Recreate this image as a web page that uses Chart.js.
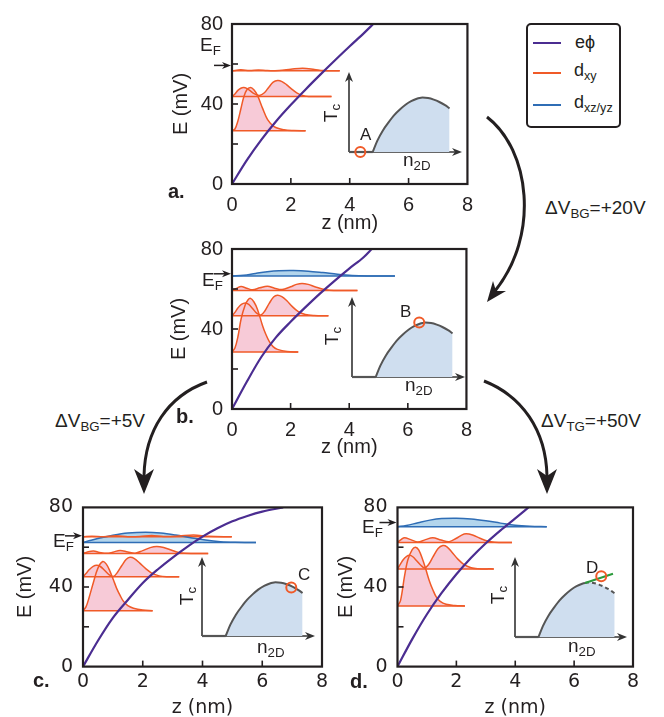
<!DOCTYPE html>
<html>
<head>
<meta charset="utf-8">
<script src="https://cdn.jsdelivr.net/npm/chart.js@4.4.1/dist/chart.umd.min.js"></script>
<style>
body { margin: 0; background: #fff; }
#fig { position: relative; width: 664px; height: 717px; overflow: hidden; font-family: "Liberation Sans", Arial, sans-serif; color: #231f20; }
#fig canvas { position: absolute; }
.t { position: absolute; line-height: 1; white-space: nowrap; font-size: 19px; }
.t sub { font-size: 70%; vertical-align: -0.3em; line-height: 0; }
.lab { font-weight: bold; font-size: 20px; }
.rot { transform: translate(-50%, -50%) rotate(-90deg); }
svg { position: absolute; left: 0; top: 0; }
</style>
</head>
<body>
<div id="fig">
<svg width="664" height="717">
  <g fill="none" stroke="#231f20" stroke-width="3">
    <path d="M487,117 C530,150 540,235 495,291"/>
    <path d="M207,382 C168,396 145,430 144,476"/>
    <path d="M484,381 C522,396 546,430 547,476"/>
  </g>
  <g fill="#231f20">
    <polygon points="487,302 493,281 496,291 506,291"/>
    <polygon points="144,494 134,469 144,476 154,469"/>
    <polygon points="547,494 537,469 547,476 557,469"/>
  </g>
</svg>
</div>
<script>
const PURPLE = '#4b2d91', ORANGE = '#f05a28', PINK = '#f7cad7', BLUE = '#2f6db5', LBLUE = '#b3d5ec', INK = '#231f20';

// axes
const zTicks = [0, 2, 4, 6, 8];
const eTicks = [0, 20, 40, 60, 80];
const eLabeled = [0, 40, 80];

// e-phi potential, [z (nm), E (mV)]
const phiA = [[0,0],[0.5,11.8],[1,22.2],[1.5,31.4],[2,39.6],[2.5,47.3],[3,54.7],[3.5,61.9],[4,68.9],[4.5,75.7],[4.8,80]];
const phiB = [[0,0],[0.5,13.5],[1,26],[1.5,35.8],[2,43.6],[2.5,50.8],[3,57.7],[3.5,64.1],[4,70.2],[4.5,76],[4.77,80]];
const phiC = [[0,0],[0.5,13],[1,24.5],[1.5,33.5],[2,42],[2.5,48.8],[3,54.8],[3.5,60.3],[4,65.3],[4.5,69.5],[5,73],[5.5,75.7],[6,77.9],[6.7,80]];
const phiD = [[0,0],[0.5,13.8],[1,26.3],[1.5,37],[2,46.4],[2.5,54.7],[3,62],[3.5,68.5],[4,74.5],[4.45,80]];

// d_xy subbands (first point = level), [z, E]
const aXY1 = [[0,26.6],[0.1,27.5],[0.2,31.5],[0.3,37.5],[0.4,43.5],[0.5,47],[0.63,48.2],[0.75,47],[0.87,44.2],[1.04,37.8],[1.21,32.2],[1.43,28.7],[1.77,27.1],[2.1,26.7],[2.5,26.6]];
const aXY2 = [[0,43.7],[0.1,45],[0.2,46.8],[0.3,47.9],[0.4,48.2],[0.5,47.8],[0.6,46.8],[0.75,45.2],[0.93,44.3],[1.1,45.6],[1.25,48.4],[1.4,50.9],[1.55,51.7],[1.7,51.2],[1.85,49.7],[2,47.8],[2.2,45.6],[2.4,44.3],[2.6,43.8],[3.38,43.7]];
const aXY3 = [[0,56.6],[0.3,57.1],[0.6,56.7],[0.9,57],[1.2,56.7],[1.6,56.8],[2,57.4],[2.4,57.9],[2.8,57.3],[3.1,56.7],[3.66,56.6]];

const bXY1 = [[0,28.5],[0.1,30.5],[0.2,36],[0.31,45],[0.45,52],[0.55,54.6],[0.63,55.3],[0.75,53.5],[0.87,49.8],[1.04,41.8],[1.15,37.5],[1.27,33.8],[1.4,31.2],[1.55,29.8],[1.88,28.7],[2.26,28.5]];
const bXY2 = [[0,46.6],[0.1,48.3],[0.2,50.5],[0.32,52.3],[0.45,53],[0.57,52.3],[0.7,50.3],[0.85,47.8],[0.99,47],[1.12,49],[1.27,52.8],[1.42,56],[1.55,56.9],[1.7,56.2],[1.88,54],[2.05,51.3],[2.25,48.8],[2.5,47.2],[2.8,46.7],[3.29,46.6]];
const bXY3 = [[0,59.3],[0.15,60.3],[0.31,61.2],[0.5,60.4],[0.7,59.6],[0.95,60.6],[1.21,61.4],[1.45,60.4],[1.71,59.7],[2,61.1],[2.2,62.3],[2.39,62.8],[2.6,62.3],[2.85,61],[3.2,59.6],[3.5,59.3],[4.28,59.3]];
const bXZ = [[0,66.5],[0.4,66.9],[0.8,67.8],[1.2,68.6],[1.6,69.1],[2.1,69.2],[2.6,68.9],[3.1,68.2],[3.6,67.4],[4.1,66.8],[4.6,66.55],[5.56,66.5]];

const cXY1 = [[0,28.1],[0.1,30],[0.2,34.5],[0.35,42.4],[0.5,49.5],[0.66,52.8],[0.78,51.5],[0.9,48],[1.02,43.5],[1.13,39.2],[1.25,35.5],[1.35,32.9],[1.5,30.6],[1.69,29.3],[2,28.4],[2.33,28.1]];
const cXY2 = [[0,45.1],[0.1,46.8],[0.22,48.9],[0.34,50.4],[0.46,50.9],[0.58,50.3],[0.72,48.4],[0.88,46.1],[1.02,45.3],[1.15,47.3],[1.3,50.8],[1.45,53.9],[1.57,54.9],[1.72,54.3],[1.9,52],[2.1,49.2],[2.3,47],[2.55,45.6],[2.8,45.15],[3.22,45.1]];
const cXY3 = [[0,56.8],[0.15,57.6],[0.35,58.1],[0.55,57.4],[0.8,56.9],[1,57.5],[1.24,58.4],[1.5,57.6],[1.75,57],[2,58.3],[2.25,59.8],[2.47,60.3],[2.7,59.8],[2.95,58.6],[3.2,57.3],[3.4,56.9],[4.19,56.8]];
const cXY4 = [[0,65.2],[0.3,65.5],[0.7,65.2],[1.1,65.7],[1.5,65.3],[1.9,65.4],[2.3,65.9],[2.7,65.4],[3.2,65.6],[3.7,66.1],[4.2,65.5],[4.98,65.2]];
const cXZ = [[0,62.4],[0.2,63.2],[0.6,64.7],[1,66],[1.5,67.1],[2.1,67.5],[2.6,67.1],[3.1,66.1],[3.6,64.8],[4.1,63.6],[4.6,62.8],[5.1,62.5],[5.79,62.4]];

const dXY1 = [[0,30.5],[0.1,33],[0.24,45.6],[0.35,53.6],[0.5,58.8],[0.61,60],[0.72,58.6],[0.86,53.6],[0.97,48.5],[1.08,43.2],[1.2,38.6],[1.31,35.2],[1.45,32.8],[1.65,31.3],[1.95,30.7],[2.29,30.5]];
const dXY2 = [[0,49.1],[0.1,51.5],[0.2,53.8],[0.3,55.3],[0.41,55.9],[0.52,55.2],[0.65,53.2],[0.8,50.8],[0.92,49.6],[1.05,51.2],[1.2,55],[1.38,59.3],[1.54,60.8],[1.68,60.2],[1.85,57.5],[2.05,54],[2.25,51.4],[2.5,49.7],[2.72,49.2],[3.27,49.1]];
const dXY3 = [[0,62.4],[0.12,63.8],[0.24,64.8],[0.45,63.8],[0.69,62.6],[0.95,63.8],[1.2,64.8],[1.48,63.6],[1.76,62.8],[2,64.5],[2.18,66.1],[2.33,66.7],[2.55,66.1],[2.8,64.5],[3.05,63.1],[3.3,62.5],[3.89,62.4]];
const dXZ = [[0,70.3],[0.3,70.9],[0.7,72.3],[1.1,73.6],[1.5,74.4],[2,74.6],[2.5,74.2],[3,73.3],[3.5,72.1],[4,71],[4.5,70.5],[5.07,70.3]];

// Fermi level per panel a..d
const fermi = [59.3, 67.6, 65.7, 72.4];

// inset Tc dome (arbitrary units)
const domeN  = [0.21, 0.25, 0.3, 0.35, 0.4, 0.45, 0.5, 0.55, 0.6, 0.625, 0.65, 0.7, 0.75, 0.8, 0.85, 0.89];
const domeTc = [0, 0.14, 0.27, 0.37, 0.46, 0.53, 0.59, 0.635, 0.665, 0.675, 0.68, 0.675, 0.655, 0.625, 0.585, 0.545];
const markA = [0.1, 0], markB = [0.595, 0.68], markC = [0.79, 0.615], markD = [0.77, 0.76];
const slopeD = [[0.625, 0.675], [0.875, 0.79]];

const fig = document.getElementById('fig');

function line(ctx, x1, y1, x2, y2) { ctx.beginPath(); ctx.moveTo(x1, y1); ctx.lineTo(x2, y2); ctx.stroke(); }
function head(ctx, x, y, ang, len, w) {
  ctx.save(); ctx.translate(x, y); ctx.rotate(ang);
  ctx.beginPath(); ctx.moveTo(0, 0); ctx.lineTo(-len, -w); ctx.lineTo(-len * 0.7, 0); ctx.lineTo(-len, w); ctx.closePath(); ctx.fill();
  ctx.restore();
}

const decor = {
  id: 'decor',
  afterDatasetsDraw(chart, args, o) {
    const {ctx, chartArea: a, scales: {x, y}} = chart;
    ctx.save();
    ctx.strokeStyle = INK; ctx.fillStyle = INK; ctx.lineWidth = 1.6;
    eTicks.forEach(v => { if (v > 0 && v < 80) { const py = y.getPixelForValue(v); line(ctx, a.left, py, a.left + 6, py); } });
    zTicks.forEach(v => { if (v > 0 && v < 8) { const px = x.getPixelForValue(v); line(ctx, px, a.bottom, px, a.bottom - 6); } });
    ctx.lineWidth = 2.2;
    ctx.strokeRect(a.left, a.top, a.right - a.left, a.bottom - a.top);
    const py = y.getPixelForValue(o.ef);
    ctx.lineWidth = 1.5;
    line(ctx, a.left - 18, py, a.left - 6, py);
    head(ctx, a.left - 1, py, 0, 9, 3.5);
    ctx.restore();
  }
};

function hump(c, col, fillCol) {
  return {data: c, borderColor: col, borderWidth: 1.5, fill: {value: c[0][1]}, backgroundColor: fillCol, tension: 0.35};
}
function base(c, col) {
  const e = c[0][1];
  return {data: [[0, e], [c[c.length - 1][0], e]], borderColor: col, borderWidth: 1.5, fill: false};
}

function panel(p) {
  const PADT = 14, PADR = 12;
  const Wy = p.yTitle + p.yFont.size * 0.6;
  const Hx = p.xTitle + p.xFont.size * 0.6;
  const cv = document.createElement('canvas');
  cv.width = Wy + (p.R - p.L) + PADR;
  cv.height = PADT + (p.B - p.T) + Hx;
  cv.style.left = (p.L - Wy) + 'px';
  cv.style.top = (p.T - PADT) + 'px';
  fig.appendChild(cv);

  const ds = [{data: p.phi, borderColor: PURPLE, borderWidth: 2.2, fill: false, cubicInterpolationMode: 'monotone'}];
  p.xy.forEach(c => ds.push(hump(c, ORANGE, PINK)));
  if (p.xz) ds.push(hump(p.xz, BLUE, LBLUE));
  p.xy.forEach(c => ds.push(base(c, ORANGE)));
  if (p.xz) ds.push(base(p.xz, BLUE));

  new Chart(cv, {
    type: 'line',
    data: {datasets: ds},
    plugins: [decor],
    options: {
      responsive: false, animation: false, events: [],
      layout: {padding: {left: 0, top: PADT, right: PADR, bottom: 0}, autoPadding: false},
      elements: {point: {radius: 0}},
      plugins: {legend: {display: false}, tooltip: {enabled: false}, filler: {drawTime: 'beforeDatasetsDraw'}, decor: {ef: p.ef}},
      scales: {
        x: {
          type: 'linear', min: 0, max: 8,
          afterBuildTicks: s => { s.ticks = zTicks.map(v => ({value: v})); },
          afterFit: s => { s.height = Hx; },
          ticks: {font: p.tickFont, color: INK, padding: p.xPad, maxRotation: 0, autoSkip: false},
          grid: {display: false, drawTicks: false}, border: {display: false},
          title: {display: true, text: 'z (nm)', font: p.xFont, color: INK, padding: 0}
        },
        y: {
          type: 'linear', min: 0, max: 80,
          afterBuildTicks: s => { s.ticks = eTicks.map(v => ({value: v})); },
          afterFit: s => { s.width = Wy; },
          ticks: {font: p.tickFont, color: INK, padding: p.yPad, autoSkip: false, callback: v => eLabeled.includes(v) ? v : ''},
          grid: {display: false, drawTicks: false}, border: {display: false},
          title: {display: true, text: 'E (mV)', font: p.yFont, color: INK, padding: 0}
        }
      }
    }
  });
}

const insetAxes = {
  id: 'insetAxes',
  beforeDatasetsDraw(chart) {
    const {ctx, scales: {x, y}} = chart;
    const x0 = x.getPixelForValue(0), y0 = y.getPixelForValue(0), x1 = x.getPixelForValue(1), y1 = y.getPixelForValue(1);
    ctx.save();
    ctx.strokeStyle = '#333'; ctx.fillStyle = '#333'; ctx.lineWidth = 1.6;
    line(ctx, x0, y0, x1 - 5, y0);
    line(ctx, x0, y0, x0, y1 + 5);
    head(ctx, x1, y0, 0, 10, 4);
    head(ctx, x0, y1, -Math.PI / 2, 10, 4);
    ctx.restore();
  }
};

function inset(p) {
  const pad = 10;
  const cv = document.createElement('canvas');
  cv.width = (p.tx - p.ox) + 2 * pad;
  cv.height = (p.oy - p.ty) + 2 * pad;
  cv.style.left = (p.ox - pad) + 'px';
  cv.style.top = (p.ty - pad) + 'px';
  fig.appendChild(cv);
  const dome = domeN.map((n, i) => [n, domeTc[i]]);
  const ds = [{data: [p.mark], showLine: false, pointRadius: 5, pointBorderWidth: 2, pointBorderColor: ORANGE, pointBackgroundColor: 'rgba(0,0,0,0)', clip: false}];
  if (p.slope) ds.push({data: p.slope, borderColor: '#2b9a3b', borderWidth: 2, fill: false, clip: false});
  ds.push({
    data: dome, borderColor: '#555', borderWidth: 2, fill: {value: 0}, backgroundColor: '#cfdeef', clip: false,
    cubicInterpolationMode: 'monotone',
    segment: {borderDash: c => (p.dashed && c.p0.parsed.x >= 0.62) ? [4, 3] : undefined}
  });
  ds.push({data: [[0, 0], [domeN[0], 0]], borderColor: '#555', borderWidth: 2.2, fill: false, clip: false});
  new Chart(cv, {
    type: 'line',
    data: {datasets: ds},
    plugins: [insetAxes],
    options: {
      responsive: false, animation: false, events: [],
      layout: {padding: pad, autoPadding: false},
      elements: {point: {radius: 0}},
      plugins: {legend: {display: false}, tooltip: {enabled: false}},
      scales: {x: {type: 'linear', min: 0, max: 1, display: false}, y: {type: 'linear', min: 0, max: 1, display: false}}
    }
  });
}

const fontA = {family: '"Liberation Sans", Arial, sans-serif', size: 20};
const fontC = {family: '"DejaVu Sans", sans-serif', size: 19};

panel({L: 232, T: 17, R: 470, B: 184, phi: phiA, xy: [aXY1, aXY2, aXY3], xz: null, ef: fermi[0],
  tickFont: fontA, xFont: fontA, yFont: fontA, yTitle: 51, xTitle: 39, xPad: 9, yPad: 9});
panel({L: 232, T: 242, R: 469, B: 409, phi: phiB, xy: [bXY1, bXY2, bXY3], xz: bXZ, ef: fermi[1],
  tickFont: fontA, xFont: fontA, yFont: fontA, yTitle: 53, xTitle: 38, xPad: 9, yPad: 9});
panel({L: 83, T: 500, R: 322, B: 667, phi: phiC, xy: [cXY1, cXY2, cXY3, cXY4], xz: cXZ, ef: fermi[2],
  tickFont: fontC, xFont: fontC, yFont: fontA, yTitle: 58, xTitle: 41, xPad: 4, yPad: 10});
panel({L: 397, T: 500, R: 633, B: 667, phi: phiD, xy: [dXY1, dXY2, dXY3], xz: dXZ, ef: fermi[3],
  tickFont: fontC, xFont: fontC, yFont: fontA, yTitle: 51.5, xTitle: 41, xPad: 4, yPad: 10});

inset({ox: 349, oy: 152, tx: 462, ty: 72, mark: markA});
inset({ox: 352, oy: 377.5, tx: 465, ty: 297, mark: markB});
inset({ox: 202, oy: 636, tx: 315, ty: 557, mark: markC});
inset({ox: 515, oy: 637, tx: 627, ty: 557, mark: markD, slope: slopeD, dashed: true});

// texts
const texts = [
  ['a.', 168, 181, 'lab'], ['b.', 176, 406, 'lab'], ['c.', 33, 670, 'lab'], ['d.', 350, 671, 'lab'],
  ['E<sub>F</sub>', 200, 34.5], ['E<sub>F</sub>', 202, 270], ['E<sub>F</sub>', 53, 531], ['E<sub>F</sub>', 362, 517],
  ['n<sub>2D</sub>', 403, 150], ['n<sub>2D</sub>', 405, 374.5], ['n<sub>2D</sub>', 257, 637], ['n<sub>2D</sub>', 568, 635.5],
  ['A', 360, 126, 's'], ['B', 400, 303, 's'], ['C', 298, 566, 's'], ['D', 586, 559, 's'],
  ['ΔV<sub>BG</sub>=+20V', 545, 197.5], ['ΔV<sub>BG</sub>=+5V', 55, 410.5], ['ΔV<sub>TG</sub>=+50V', 541, 410.5],
  ['eϕ', 575, 33, 'g'], ['d<sub>xy</sub>', 574, 60.5, 'g'], ['d<sub>xz/yz</sub>', 574, 92.5, 'g']
];
texts.forEach(([h, x, y, k]) => {
  const d = document.createElement('div');
  d.className = 't' + (k === 'lab' ? ' lab' : '');
  if (k === 's') d.style.fontSize = '17px';
  if (k === 'g') d.style.fontSize = '18px';
  d.style.left = x + 'px'; d.style.top = y + 'px';
  d.innerHTML = h;
  fig.appendChild(d);
});
[[330, 113], [331, 336], [186, 596], [497, 595]].forEach(([x, y]) => {
  const d = document.createElement('div');
  d.className = 't rot';
  d.style.left = x + 'px'; d.style.top = y + 'px';
  d.innerHTML = 'T<sub>c</sub>';
  fig.appendChild(d);
});

// legend box
const lg = document.createElement('div');
lg.style.cssText = 'position:absolute;left:526px;top:23px;width:91px;height:101px;border:2px solid #231f20;border-radius:5px;';
fig.appendChild(lg);
[[43, PURPLE], [73, ORANGE], [105, BLUE]].forEach(([y, c]) => {
  const s = document.createElement('div');
  s.style.cssText = `position:absolute;left:533px;top:${y - 1.25}px;width:28px;height:2.5px;background:${c};`;
  fig.appendChild(s);
});
</script>
</body>
</html>
